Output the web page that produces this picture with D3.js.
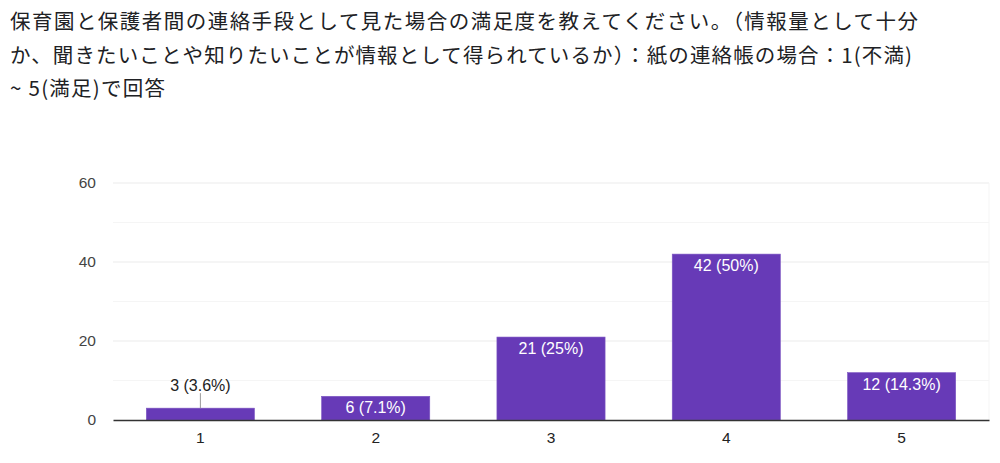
<!DOCTYPE html>
<html><head><meta charset="utf-8">
<script src="https://cdn.jsdelivr.net/npm/d3@7"></script>
<style>body{margin:0;background:#fff}svg{display:block}</style>
</head><body>
<svg id="c" width="1000" height="463"></svg>
<script>
const titleLines = [
  "保育園と保護者間の連絡手段として見た場合の満足度を教えてください。（情報量として十分",
  "か、聞きたいことや知りたいことが情報として得られているか）：紙の連絡帳の場合：1(不満)",
  "~ 5(満足)で回答"
];
const titleWidths = [908, 902, 155];
const categories = ["1", "2", "3", "4", "5"];
const counts = [3, 6, 21, 42, 12];
const percents = ["3.6%", "7.1%", "25%", "50%", "14.3%"];
const yTicks = [0, 20, 40, 60];
const yMinor = [10, 30, 50];

const svg = d3.select("#c");
const font = "'Noto Sans CJK JP', 'Noto Sans', sans-serif";
const numFont = "'Liberation Sans', Arial, Helvetica, sans-serif";
const plotLeft = 113, plotRight = 989, plotTop = 183, plotBottom = 420;

svg.append("g").selectAll("text").data(titleLines).join("text")
  .attr("x", 10).attr("y", (d, i) => 29 + i * 33.5)
  .attr("font-family", font).attr("font-size", 20.5).attr("fill", "#202124")
  .attr("textLength", (d, i) => titleWidths[i]).attr("lengthAdjust", "spacing")
  .text(d => d);

const x = d3.scaleBand().domain(categories).range([plotLeft, plotRight]).paddingInner(0.383).paddingOuter(0.19);
const y = d3.scaleLinear().domain([0, 60]).range([plotBottom, plotTop]);

svg.append("g").selectAll("line.minor").data(yMinor).join("line")
  .attr("x1", plotLeft).attr("x2", plotRight).attr("y1", d => y(d)).attr("y2", d => y(d))
  .attr("stroke", "#f5f5f5").attr("stroke-width", 1);
svg.append("g").selectAll("line.major").data(yTicks.filter(d => d > 0)).join("line")
  .attr("x1", plotLeft).attr("x2", plotRight).attr("y1", d => y(d)).attr("y2", d => y(d))
  .attr("stroke", "#ebebeb").attr("stroke-width", 1);
svg.append("line").attr("x1", plotRight).attr("x2", plotRight).attr("y1", plotTop).attr("y2", plotBottom)
  .attr("stroke", "#f5f5f5");

const yAxis = svg.append("g").attr("transform", `translate(${plotLeft},0)`)
  .call(d3.axisLeft(y).tickValues(yTicks).tickSize(0).tickPadding(17));
yAxis.select(".domain").remove();
yAxis.selectAll("text").attr("font-family", numFont).attr("font-size", 15.5).attr("fill", "#444");

const data = categories.map((c, i) => ({c, v: counts[i], p: percents[i]}));

svg.append("g").selectAll("rect").data(data).join("rect")
  .attr("x", d => x(d.c)).attr("width", x.bandwidth())
  .attr("y", d => y(d.v)).attr("height", d => y(0) - y(d.v))
  .attr("fill", "#673ab7").attr("stroke", "#7e57c2").attr("stroke-width", 0.6);

const xAxis = svg.append("g").attr("transform", `translate(0,${plotBottom})`)
  .call(d3.axisBottom(x).tickSize(0).tickPadding(12));
xAxis.select(".domain").attr("stroke", "#333").attr("stroke-width", 1.5);
xAxis.selectAll("text").attr("font-family", numFont).attr("font-size", 15.5).attr("fill", "#222");

const labels = svg.append("g");
data.forEach(d => {
  const cx = x(d.c) + x.bandwidth() / 2;
  const h = y(0) - y(d.v);
  const txt = `${d.v} (${d.p})`;
  if (h < 18) {
    labels.append("line").attr("x1", cx).attr("x2", cx)
      .attr("y1", y(d.v)).attr("y2", y(d.v) - 15).attr("stroke", "#999").attr("stroke-width", 1);
    labels.append("text").attr("x", cx).attr("y", y(d.v) - 17).attr("text-anchor", "middle")
      .attr("font-family", numFont).attr("font-size", 16).attr("fill", "#222").text(txt);
  } else {
    labels.append("text").attr("x", cx).attr("y", y(d.v) + 17).attr("text-anchor", "middle")
      .attr("font-family", numFont).attr("font-size", 16).attr("fill", "#fff").text(txt);
  }
});
</script>
</body></html>
